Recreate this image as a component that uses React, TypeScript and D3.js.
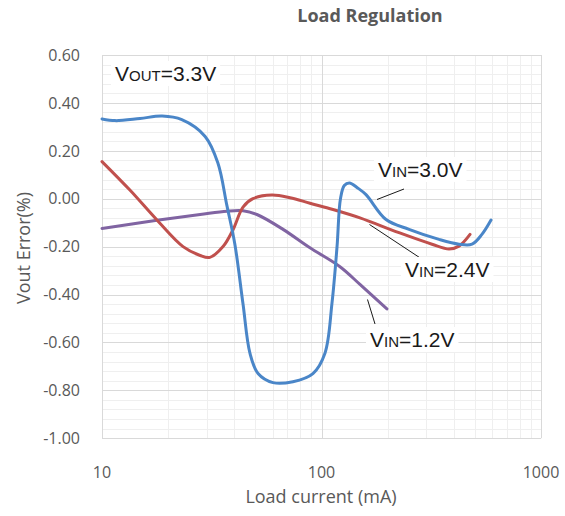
import * as d3 from "d3";
import { useEffect, useRef } from "react";

// load current (mA) and Vout error (%)
const VIN30_I = [10, 11.5, 14.9, 18.8, 23.1, 29.5, 33.7, 37.1, 40.3, 43.9, 47.2, 51.4, 60.1, 74.1, 91.4, 103.7, 111.6, 117.7, 122, 127, 134, 146, 159.5, 196.8, 250.4, 343, 423, 485, 538, 592];
const VIN30_V = [0.333, 0.326, 0.335, 0.345, 0.33, 0.26, 0.15, -0.03, -0.19, -0.44, -0.645, -0.73, -0.768, -0.764, -0.73, -0.645, -0.437, -0.2, 0.0, 0.055, 0.066, 0.045, 0.017, -0.087, -0.128, -0.17, -0.19, -0.19, -0.149, -0.089];

const VIN24_I = [10, 13.4, 17.8, 23.4, 28.0, 31.0, 35.6, 39.5, 43.9, 48.7, 59.5, 71.9, 88.6, 112.8, 149.7, 225.5, 318.7, 381, 423, 475];
const VIN24_V = [0.155, 0.036, -0.089, -0.2, -0.237, -0.245, -0.2, -0.13, -0.035, 0.0, 0.015, 0.004, -0.019, -0.045, -0.08, -0.142, -0.19, -0.21, -0.198, -0.149];

const VIN12_I = [10, 17.8, 28.0, 37.1, 43.9, 50.8, 66.8, 88.6, 121.4, 149.7, 198.6];
const VIN12_V = [-0.124, -0.09, -0.066, -0.052, -0.05, -0.066, -0.128, -0.205, -0.284, -0.358, -0.46];

const SERIES_NAMES = ["3.0V", "2.4V", "1.2V"];
const SERIES_COLORS = ["#4a86c8", "#c0504d", "#8064a2"];

const X_TICKS = [10, 100, 1000];
const Y_TICKS = [-1.0, -0.8, -0.6, -0.4, -0.2, 0.0, 0.2, 0.4, 0.6];

const TEXT_GRAY = "#595959";
const AXIS_FONT = "'Open Sans', sans-serif";
const NOTE_FONT = "'Liberation Sans', Arial, sans-serif";

export default function App() {
  const ref = useRef<SVGSVGElement | null>(null);

  useEffect(() => {
    const svg = d3.select(ref.current);
    svg.selectAll("*").remove();

    const x = d3.scaleLog().domain([10, 1000]).range([102, 541]);
    const y = d3.scaleLinear().domain([-1, 0.6]).range([438.2, 55]);

    const grid = svg.append("g");
    // minor grid
    const minorY = d3.range(0, 41).map((i) => -1 + i * 0.04);
    const minorX: number[] = [];
    [10, 100].forEach((dec) => d3.range(2, 10).forEach((m) => minorX.push(dec * m)));
    grid
      .selectAll("line.my")
      .data(minorY)
      .enter()
      .append("line")
      .attr("x1", x(10))
      .attr("x2", x(1000))
      .attr("y1", (d) => Math.round(y(d)) + 0.5)
      .attr("y2", (d) => Math.round(y(d)) + 0.5)
      .attr("stroke", "#efefef");
    grid
      .selectAll("line.mx")
      .data(minorX)
      .enter()
      .append("line")
      .attr("y1", y(0.6))
      .attr("y2", y(-1))
      .attr("x1", (d) => Math.round(x(d)) + 0.5)
      .attr("x2", (d) => Math.round(x(d)) + 0.5)
      .attr("stroke", "#efefef");
    // major grid
    grid
      .selectAll("line.My")
      .data(Y_TICKS)
      .enter()
      .append("line")
      .attr("x1", x(10))
      .attr("x2", x(1000))
      .attr("y1", (d) => Math.round(y(d)) + 0.5)
      .attr("y2", (d) => Math.round(y(d)) + 0.5)
      .attr("stroke", "#d9d9d9");
    grid
      .selectAll("line.Mx")
      .data(X_TICKS)
      .enter()
      .append("line")
      .attr("y1", y(0.6))
      .attr("y2", y(-1))
      .attr("x1", (d) => Math.round(x(d)) + 0.5)
      .attr("x2", (d) => Math.round(x(d)) + 0.5)
      .attr("stroke", "#d9d9d9");

    // tick labels
    svg
      .append("g")
      .selectAll("text")
      .data(Y_TICKS)
      .enter()
      .append("text")
      .attr("x", 80)
      .attr("y", (d) => y(d))
      .attr("dy", "0.36em")
      .attr("text-anchor", "end")
      .attr("font-family", AXIS_FONT)
      .attr("font-size", 16)
      .attr("fill", TEXT_GRAY)
      .text((d) => d.toFixed(2));
    svg
      .append("g")
      .selectAll("text")
      .data(X_TICKS)
      .enter()
      .append("text")
      .attr("x", (d) => x(d))
      .attr("y", 478)
      .attr("text-anchor", "middle")
      .attr("font-family", AXIS_FONT)
      .attr("font-size", 16)
      .attr("fill", TEXT_GRAY)
      .text((d) => String(d));

    // titles
    svg
      .append("text")
      .attr("x", 370)
      .attr("y", 22)
      .attr("text-anchor", "middle")
      .attr("font-family", AXIS_FONT)
      .attr("font-size", 18)
      .attr("font-weight", 700)
      .attr("fill", TEXT_GRAY)
      .text("Load Regulation");
    svg
      .append("text")
      .attr("x", 321)
      .attr("y", 503)
      .attr("text-anchor", "middle")
      .attr("font-family", AXIS_FONT)
      .attr("font-size", 18)
      .attr("fill", TEXT_GRAY)
      .text("Load current (mA)");
    svg
      .append("text")
      .attr("transform", "translate(30,248) rotate(-90)")
      .attr("text-anchor", "middle")
      .attr("font-family", AXIS_FONT)
      .attr("font-size", 18)
      .attr("fill", TEXT_GRAY)
      .text("Vout Error(%)");

    // series
    const data = [
      VIN30_I.map((d, i) => [d, VIN30_V[i]]),
      VIN24_I.map((d, i) => [d, VIN24_V[i]]),
      VIN12_I.map((d, i) => [d, VIN12_V[i]]),
    ];
    const line = d3
      .line<number[]>()
      .x((d) => x(d[0]))
      .y((d) => y(d[1]))
      .curve(d3.curveCatmullRom.alpha(0.5));
    // draw purple first, then red, blue on top
    [2, 1, 0].forEach((k) => {
      svg
        .append("path")
        .attr("d", line(data[k]))
        .attr("fill", "none")
        .attr("stroke", SERIES_COLORS[k])
        .attr("stroke-width", 3)
        .attr("stroke-linecap", "round")
        .attr("stroke-linejoin", "round");
    });

    // annotations with leader lines
    const notes = [
      { tx: 115, ty: 81, sub: "OUT", val: "=3.3V", leader: null as null | number[] },
      { tx: 378, ty: 177, sub: "IN", val: "=" + SERIES_NAMES[0], leader: [377, 199.5, 404, 189] },
      { tx: 405, ty: 277, sub: "IN", val: "=" + SERIES_NAMES[1], leader: [369.5, 224.5, 421, 258.5] },
      { tx: 370, ty: 347, sub: "IN", val: "=" + SERIES_NAMES[2], leader: [367.5, 299.5, 375, 324] },
    ];
    notes.forEach((n) => {
      if (n.leader) {
        svg
          .append("line")
          .attr("x1", n.leader[0])
          .attr("y1", n.leader[1])
          .attr("x2", n.leader[2])
          .attr("y2", n.leader[3])
          .attr("stroke", "#1a1a1a")
          .attr("stroke-width", 1);
      }
      const g = svg.append("g");
      const rect = g.append("rect").attr("fill", "#ffffff");
      const t = g
        .append("text")
        .attr("x", n.tx)
        .attr("y", n.ty)
        .attr("font-family", NOTE_FONT)
        .attr("font-size", 21)
        .attr("fill", "#1a1a1a");
      t.append("tspan").text("V");
      t.append("tspan").attr("font-size", 15).text(n.sub);
      t.append("tspan").text(n.val);
      const bb = (t.node() as SVGTextElement).getBBox();
      rect
        .attr("x", bb.x - 4)
        .attr("y", bb.y - 1)
        .attr("width", bb.width + 8)
        .attr("height", bb.height + 2);
    });
  }, []);

  return (
    <svg
      ref={ref}
      width={565}
      height={516}
      style={{ position: "absolute", left: 0, top: 0, background: "#ffffff" }}
    />
  );
}
